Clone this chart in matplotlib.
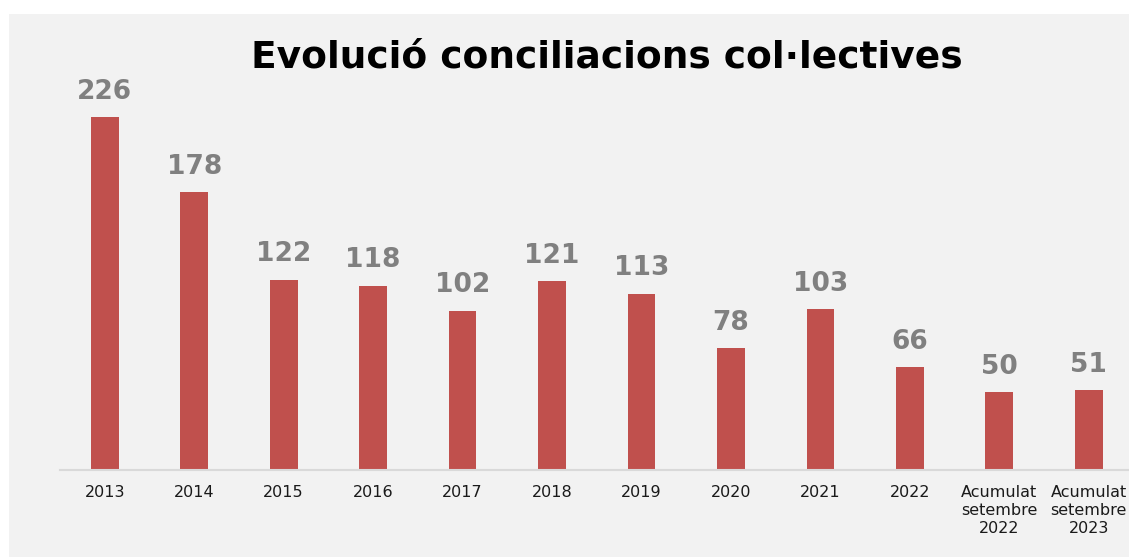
import matplotlib.pyplot as plt
from matplotlib.patches import Rectangle

categories = ["2013", "2014", "2015", "2016", "2017", "2018", "2019", "2020",
              "2021", "2022", "Acumulat\nsetembre\n2022", "Acumulat\nsetembre\n2023"]
values = [226, 178, 122, 118, 102, 121, 113, 78, 103, 66, 50, 51]

W, H = 1129, 558
fig = plt.figure(figsize=(W / 100, H / 100), dpi=100)
fig.patch.set_facecolor("white")

# grey chart area behind everything
bg = Rectangle((9 / W, 1 - 557 / H), (W - 9) / W, (557 - 14) / H,
               transform=fig.transFigure, facecolor="#f2f2f2",
               edgecolor="none", zorder=-10)
fig.add_artist(bg)

ax = fig.add_axes([60 / W, 88 / H, 1073.5 / W, 390 / H])
ax.set_facecolor("none")
ax.set_zorder(1)

x = range(len(categories))
bars = ax.bar(x, values, width=0.31, color="#c0504d", zorder=2)
ax.set_xlim(-0.5, len(categories) - 0.5)
ax.set_ylim(0, 250)

for b, v in zip(bars, values):
    ax.annotate(str(v), (b.get_x() + b.get_width() / 2, v), xytext=(0, 9),
                textcoords="offset points", ha="center", va="bottom",
                fontsize=19, fontweight="bold", color="#808080")

ax.set_xticks(list(x))
ax.set_xticklabels(categories, fontsize=11.5, color="#1a1a1a", linespacing=1.25)
ax.tick_params(axis="x", length=0, pad=11)
ax.set_yticks([])
for s in ["top", "right", "left"]:
    ax.spines[s].set_visible(False)
ax.spines["bottom"].set_color("#d9d9d9")
ax.spines["bottom"].set_linewidth(1.5)

fig.text(607 / W, 1 - 58 / H, "Evolució conciliacions col·lectives",
         ha="center", va="center", fontsize=27, fontweight="bold", color="black")

fig.savefig("out.png", dpi=100)
